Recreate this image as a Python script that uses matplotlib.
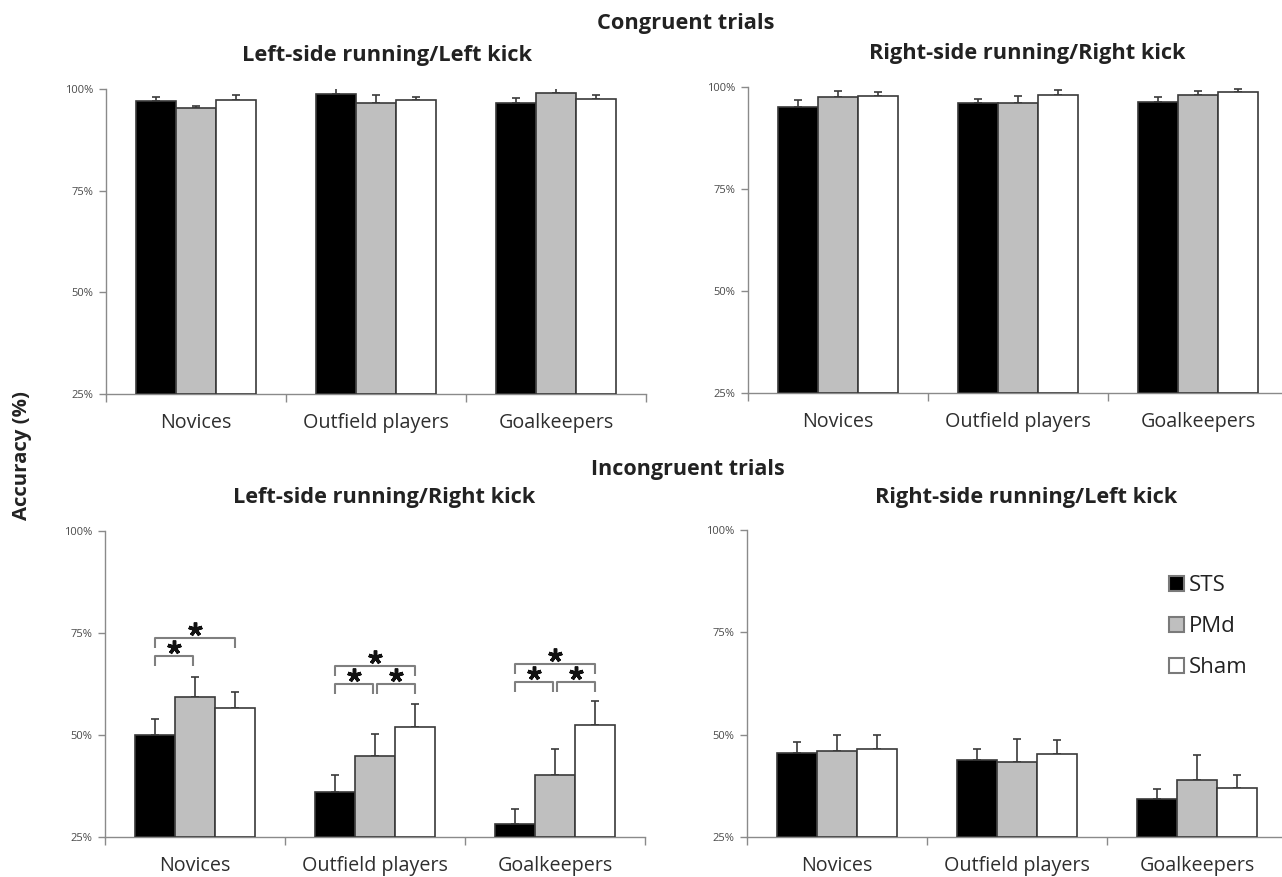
import matplotlib
matplotlib.use("Agg")
import matplotlib.pyplot as plt
import numpy as np

# ---------------- data ----------------
groups = ["Novices", "Outfield players", "Goalkeepers"]
conditions = ["STS", "PMd", "Sham"]

# Congruent: Left-side running / Left kick
ll_sts = [97.0, 98.8, 96.6]
ll_pmd = [95.3, 96.6, 99.1]
ll_sham = [97.3, 97.3, 97.5]
ll_sts_err = [1.1, 1.4, 1.2]
ll_pmd_err = [0.6, 1.9, 1.1]
ll_sham_err = [1.2, 0.7, 1.1]

# Congruent: Right-side running / Right kick
rr_sts = [95.2, 96.0, 96.3]
rr_pmd = [97.5, 96.0, 98.1]
rr_sham = [97.8, 98.1, 98.7]
rr_sts_err = [1.5, 1.0, 1.2]
rr_pmd_err = [1.6, 1.7, 1.0]
rr_sham_err = [1.0, 1.2, 0.9]

# Incongruent: Left-side running / Right kick
lr_sts = [50.0, 36.1, 28.2]
lr_pmd = [59.4, 44.9, 40.3]
lr_sham = [56.7, 51.9, 52.4]
lr_sts_err = [3.9, 4.0, 3.6]
lr_pmd_err = [4.7, 5.4, 6.2]
lr_sham_err = [3.8, 5.6, 5.9]

# Incongruent: Right-side running / Left kick
rl_sts = [45.5, 43.9, 34.2]
rl_pmd = [46.0, 43.3, 39.0]
rl_sham = [46.6, 45.2, 37.0]
rl_sts_err = [2.7, 2.6, 2.5]
rl_pmd_err = [3.8, 5.7, 6.0]
rl_sham_err = [3.2, 3.4, 3.2]

# significance brackets (Left-side running / Right kick panel)
sig_group = [0, 0, 1, 1, 1, 2, 2, 2]
sig_from = [0, 0, 0, 0, 1, 0, 0, 1]
sig_to = [2, 1, 2, 1, 2, 2, 1, 2]
sig_level = [73.8, 69.4, 66.8, 62.5, 62.5, 67.4, 62.9, 62.9]

yticks = [25, 50, 75, 100]
ytick_labels = ["25%", "50%", "75%", "100%"]

# ---------------- style ----------------
W, H = 1282, 877
fig = plt.figure(figsize=(W / 100, H / 100), dpi=100)
renderer = fig.canvas.get_renderer()
FONT = "Open Sans"
colors = ["#000000", "#bfbfbf", "#ffffff"]
edge = "#3a3a3a"
spine_c = "#8a8a8a"
bw = 0.222

def ax_at(left, top, right, bottom):
    return fig.add_axes([left / W, 1 - bottom / H, (right - left) / W, (bottom - top) / H])

def fit_text(x, y, s, width, rotation=0, **kw):
    t = fig.text(x / W, 1 - y / H, s, ha="center", va="center", fontsize=12,
                 family=FONT, rotation=rotation, **kw)
    bb = t.get_window_extent(renderer)
    size = bb.height if rotation else bb.width
    t.set_fontsize(12 * width / size)
    return t

# category label size fitted on "Novices" (71 px)
_t = fig.text(0, 0, "Novices", fontsize=12, family=FONT)
cat_fs = 12 * 71 / _t.get_window_extent(renderer).width
_t.remove()

def panel(ax, sts, pmd, sham, es, ep, eh):
    x = np.arange(len(groups))
    vals = [sts, pmd, sham]
    errs = [es, ep, eh]
    handles = []
    for i in range(3):
        xi = x + (i - 1) * bw
        b = ax.bar(xi, np.array(vals[i]) - 25, bottom=25, width=bw, color=colors[i],
                   edgecolor=edge, linewidth=1.2, zorder=3, label=conditions[i])
        handles.append(b)
        ax.errorbar(xi, vals[i], yerr=[np.zeros(3), errs[i]], fmt="none",
                    ecolor=edge, elinewidth=1.2, capsize=2.8, capthick=1.2, zorder=2)
    ax.set_xlim(-0.5, 2.5)
    ax.set_ylim(25, 100)
    ax.set_yticks(yticks)
    ax.set_yticklabels(ytick_labels, family=FONT, fontsize=8, color="#4a4a4a")
    ax.set_xticks([-0.5, 0.5, 1.5, 2.5])
    ax.set_xticklabels([])
    ax.tick_params(axis="x", length=6, width=1, color=spine_c, direction="out")
    ax.tick_params(axis="y", length=5, width=1, color=spine_c, direction="out", pad=4)
    for s in ["top", "right"]:
        ax.spines[s].set_visible(False)
    for s in ["left", "bottom"]:
        ax.spines[s].set_color(spine_c)
        ax.spines[s].set_linewidth(1.0)
    for i, g in enumerate(groups):
        ax.annotate(g, xy=(i, 25), xycoords="data", xytext=(0, -29),
                    textcoords="offset pixels", ha="center", va="center",
                    family=FONT, fontsize=cat_fs, color="#2e2e2e")
    return handles

ax1 = ax_at(106, 89, 646, 394)
ax2 = ax_at(748, 87, 1288, 393)
ax3 = ax_at(105, 531, 645, 837)
ax4 = ax_at(747, 530, 1287, 837)

panel(ax1, ll_sts, ll_pmd, ll_sham, ll_sts_err, ll_pmd_err, ll_sham_err)
panel(ax2, rr_sts, rr_pmd, rr_sham, rr_sts_err, rr_pmd_err, rr_sham_err)
panel(ax3, lr_sts, lr_pmd, lr_sham, lr_sts_err, lr_pmd_err, lr_sham_err)
handles = panel(ax4, rl_sts, rl_pmd, rl_sham, rl_sts_err, rl_pmd_err, rl_sham_err)

# significance brackets
leg = 2.4
for g, a, b, lvl in zip(sig_group, sig_from, sig_to, sig_level):
    xa = g + (a - 1) * bw
    xb = g + (b - 1) * bw
    if a == 1:
        xa += 0.012
    if b == 1:
        xb -= 0.012
    ax3.plot([xa, xa, xb, xb], [lvl - leg, lvl, lvl, lvl - leg], color="#7f7f7f",
             lw=1.5, solid_capstyle="butt", zorder=4, clip_on=False)
    ax3.plot([(xa + xb) / 2], [lvl + 2.2], marker=(5, 2, 0), markersize=10,
             mew=2.5, color="#111111", zorder=5, clip_on=False)

# legend
lg = ax4.legend(handles=handles, labels=conditions, loc="upper left",
                bbox_to_anchor=(1169 / W, 1 - 575 / H), bbox_transform=fig.transFigure,
                frameon=False, prop={"family": FONT, "size": 16},
                handlelength=0.68, handleheight=0.68, handletextpad=0.2,
                labelspacing=0.9, borderpad=0, borderaxespad=0)
for p in lg.get_patches():
    p.set_edgecolor("#7a7a7a")
    p.set_linewidth(1.5)
for t in lg.get_texts():
    t.set_color("#222222")

# titles
fit_text(686, 23, "Congruent trials", 177, weight="bold", color="#222222")
fit_text(688, 470, "Incongruent trials", 193, weight="bold", color="#222222")
fit_text(387, 55, "Left-side running/Left kick", 289, weight="bold", color="#222222")
fit_text(1027, 54, "Right-side running/Right kick", 316, weight="bold", color="#222222")
fit_text(384, 498, "Left-side running/Right kick", 302, weight="bold", color="#222222")
fit_text(1026, 497, "Right-side running/Left kick", 302, weight="bold", color="#222222")
fit_text(22, 455, "Accuracy (%)", 128, rotation=90, weight="bold", color="#222222")

fig.savefig("out.png", dpi=100)
